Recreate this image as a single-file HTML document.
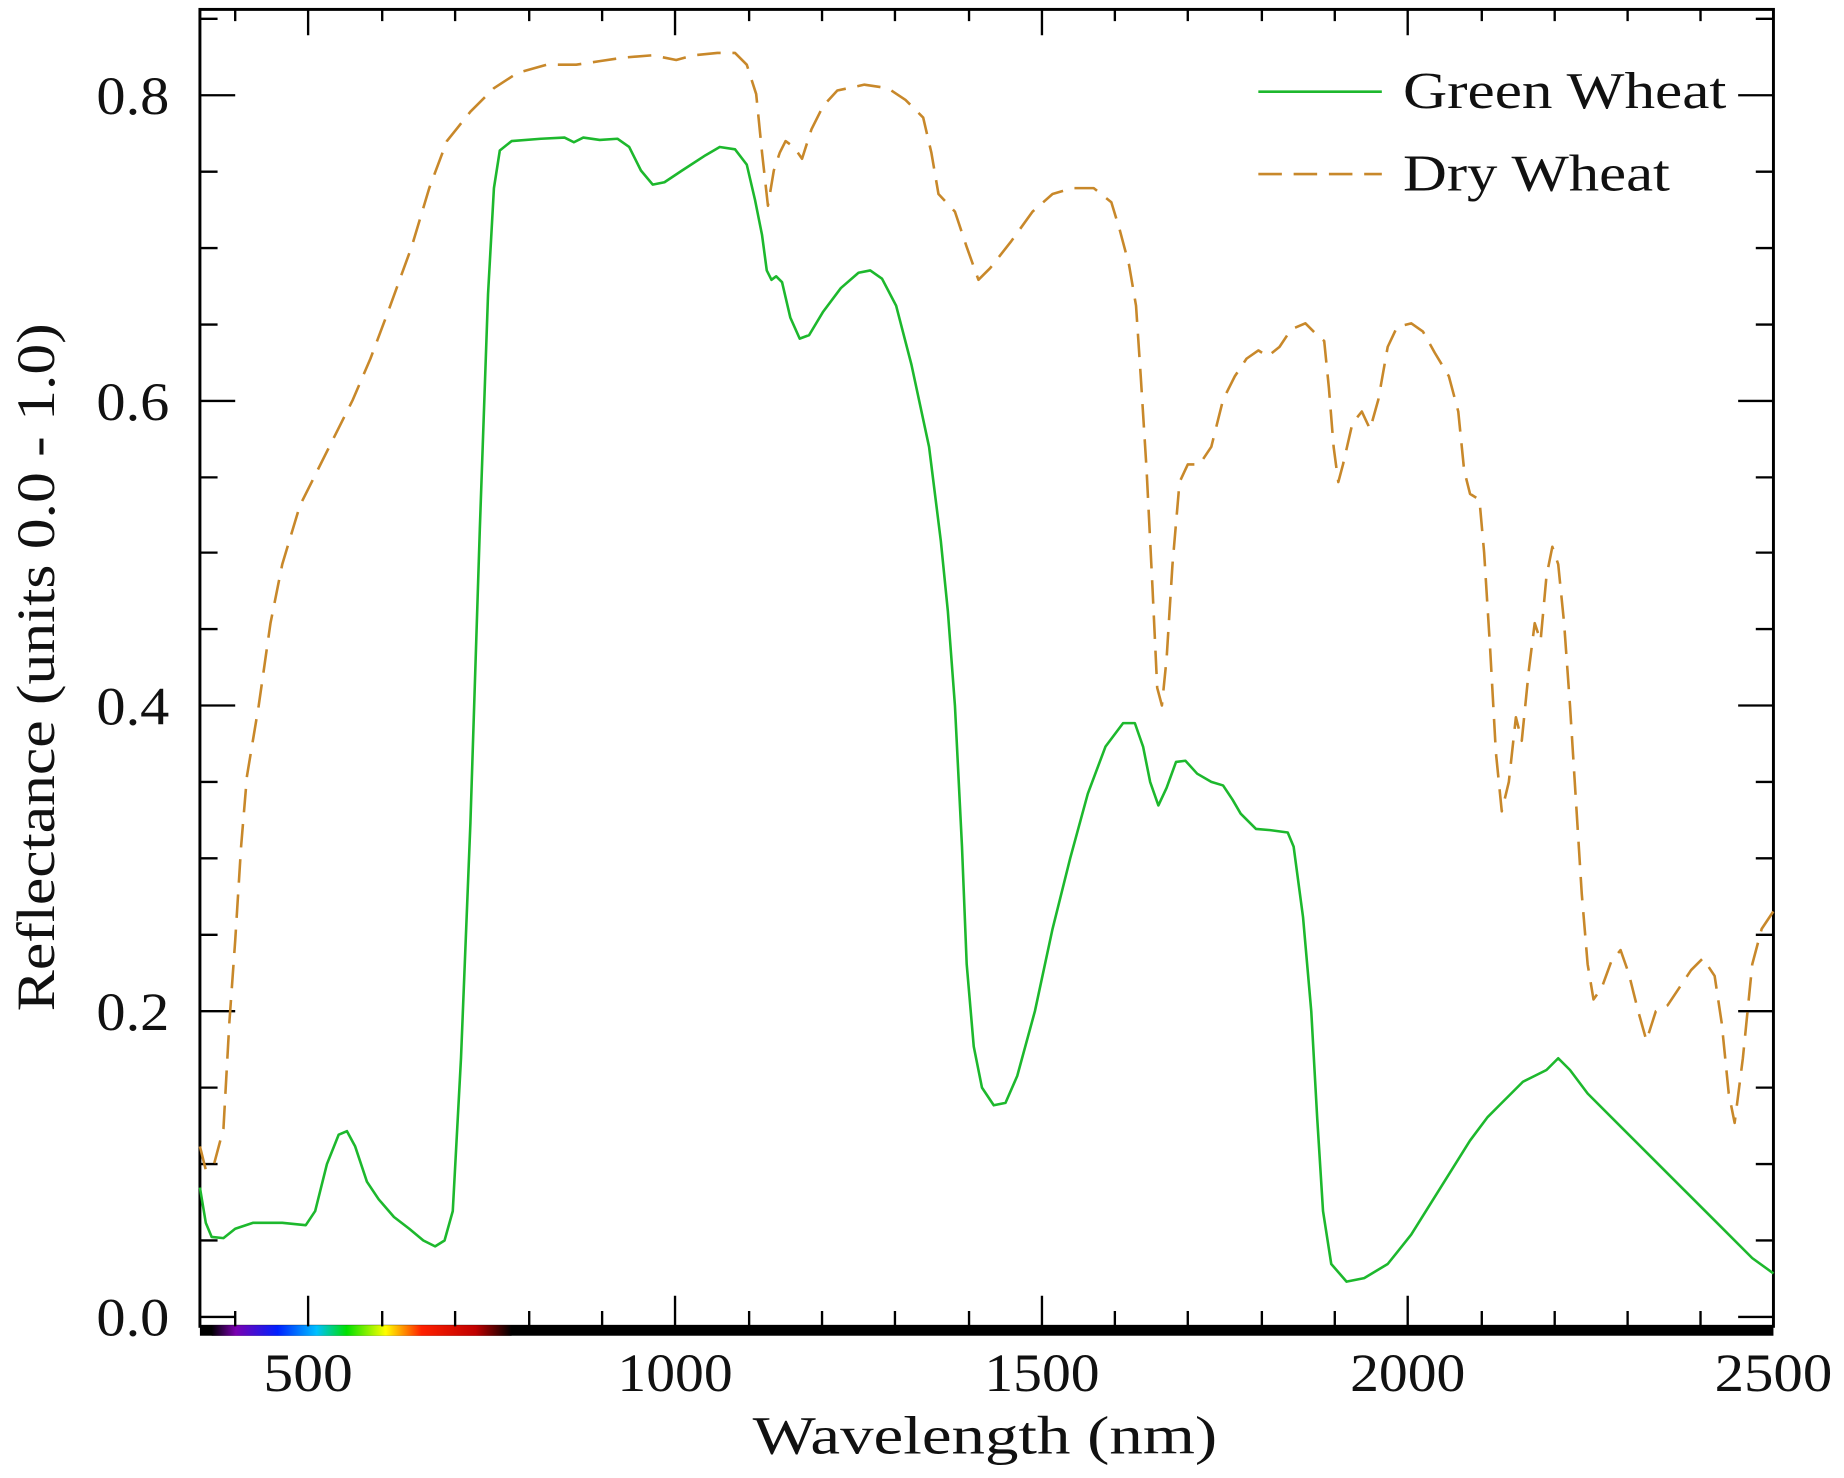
<!DOCTYPE html>
<html><head><meta charset="utf-8"><style>html,body{margin:0;padding:0;background:#fff}svg{display:block}</style></head>
<body>
<svg width="1844" height="1478" viewBox="0 0 1568 1257" preserveAspectRatio="none" xmlns="http://www.w3.org/2000/svg" font-family="'Liberation Serif', serif">
<defs>
<linearGradient id="spec" x1="0" x2="1" y1="0" y2="0">
<stop offset="0" stop-color="#000"/>
<stop offset="0.08" stop-color="#7a00b0"/>
<stop offset="0.22" stop-color="#0020ff"/>
<stop offset="0.35" stop-color="#00c0ff"/>
<stop offset="0.45" stop-color="#00e000"/>
<stop offset="0.58" stop-color="#ffff00"/>
<stop offset="0.7" stop-color="#ff2000"/>
<stop offset="0.88" stop-color="#c00000"/>
<stop offset="1" stop-color="#000"/>
</linearGradient>
</defs>
<rect x="170" y="8" width="1338" height="1120" fill="none" stroke="#000" stroke-width="2.5"/>
<rect x="170" y="1127" width="1338" height="9" fill="#000"/>
<rect x="180" y="1127" width="255" height="9" fill="url(#spec)"/>
<g stroke="#000" stroke-width="2">
<path d="M170 1120h30M170 860h30M170 600h30M170 341h30M170 81h30M1508 1120h-30M1508 860h-30M1508 600h-30M1508 341h-30M1508 81h-30"/>
<path d="M170 1055h15M170 990h15M170 925h15M170 795h15M170 730h15M170 665h15M170 535h15M170 470h15M170 406h15M170 276h15M170 211h15M170 146h15M170 16h15
M1508 1055h-15M1508 990h-15M1508 925h-15M1508 795h-15M1508 730h-15M1508 665h-15M1508 535h-15M1508 470h-15M1508 406h-15M1508 276h-15M1508 211h-15M1508 146h-15M1508 16h-15"/>
<path d="M262 8v22M574 8v22M886 8v22M1197 8v22"/>
<path d="M200 8v10M325 8v10M387 8v10M450 8v10M512 8v10M637 8v10M699 8v10M761 8v10M824 8v10M948 8v10M1010 8v10M1073 8v10M1135 8v10M1260 8v10M1322 8v10M1384 8v10M1446 8v10"/>
<path d="M262 1128v-26M574 1128v-26M886 1128v-26M1197 1128v-26"/>
<path d="M200 1128v-13M325 1128v-13M387 1128v-13M450 1128v-13M512 1128v-13M637 1128v-13M699 1128v-13M761 1128v-13M824 1128v-13M948 1128v-13M1010 1128v-13M1073 1128v-13M1135 1128v-13M1260 1128v-13M1322 1128v-13M1384 1128v-13M1446 1128v-13"/>
</g>
<g font-size="46" fill="#111">
<text x="82" y="1136" textLength="62" lengthAdjust="spacingAndGlyphs">0.0</text>
<text x="82" y="876" textLength="62" lengthAdjust="spacingAndGlyphs">0.2</text>
<text x="82" y="616" textLength="62" lengthAdjust="spacingAndGlyphs">0.4</text>
<text x="82" y="357" textLength="62" lengthAdjust="spacingAndGlyphs">0.6</text>
<text x="82" y="97" textLength="62" lengthAdjust="spacingAndGlyphs">0.8</text>
</g>
<g font-size="46" fill="#111">
<text x="224" y="1183" textLength="76" lengthAdjust="spacingAndGlyphs">500</text>
<text x="525" y="1183" textLength="98" lengthAdjust="spacingAndGlyphs">1000</text>
<text x="837" y="1183" textLength="98" lengthAdjust="spacingAndGlyphs">1500</text>
<text x="1148" y="1183" textLength="98" lengthAdjust="spacingAndGlyphs">2000</text>
<text x="1458" y="1183" textLength="100" lengthAdjust="spacingAndGlyphs">2500</text>
<text x="640" y="1236" textLength="395" lengthAdjust="spacingAndGlyphs">Wavelength (nm)</text>
<text transform="translate(46 860) rotate(-90)" textLength="585" lengthAdjust="spacingAndGlyphs">Reflectance (units 0.0 - 1.0)</text>
</g>
<polyline fill="none" stroke="#1db82d" stroke-width="2.2" stroke-linejoin="round" points="170,1010 175,1040 180,1052 190,1053 200,1045 215,1040 240,1040 260,1042 268,1030 278,990 288,965 295,962 302,975 312,1005 322,1020 335,1035 348,1045 360,1055 370,1060 378,1055 385,1030 392,900 400,700 408,450 415,250 420,160 425,128 435,120 460,118 480,117 488,121 496,117 510,119 525,118 535,125 545,145 555,157 565,155 580,145 600,132 612,125 625,127 635,140 642,170 648,200 652,230 656,238 660,235 665,240 672,270 680,288 688,285 700,265 715,245 730,232 740,230 750,237 762,260 775,310 790,380 800,460 806,520 812,600 818,720 822,820 828,890 835,925 845,940 855,938 865,915 880,860 895,790 910,730 925,675 940,635 955,615 965,615 972,635 978,665 985,685 992,670 1000,648 1008,647 1018,658 1030,665 1040,668 1048,680 1055,692 1068,705 1080,706 1095,708 1100,720 1108,780 1115,860 1120,950 1125,1030 1132,1075 1145,1090 1160,1087 1180,1075 1200,1050 1225,1010 1250,970 1265,950 1275,940 1285,930 1295,920 1305,915 1315,910 1325,900 1335,910 1350,930 1380,960 1420,1000 1460,1040 1490,1070 1508,1083"/>
<polyline fill="none" stroke="#c8882a" stroke-width="2.2" stroke-dasharray="20,10" stroke-linejoin="round" points="170,975 175,995 182,990 190,960 195,870 200,800 205,720 210,660 220,600 230,530 240,480 255,430 270,400 285,370 300,340 315,305 330,265 350,210 365,160 380,120 400,95 420,75 440,62 465,55 490,55 510,52 530,49 555,47 575,51 590,47 610,45 625,45 635,55 643,80 648,130 653,175 658,145 663,130 668,120 675,125 682,135 690,110 700,90 712,77 735,72 755,75 770,85 785,100 792,130 798,165 812,180 822,210 832,238 842,228 860,205 878,180 895,165 912,160 930,160 945,172 952,195 960,225 966,260 970,320 975,400 980,500 984,585 988,600 992,560 997,480 1003,410 1010,395 1020,395 1030,380 1040,340 1050,320 1060,305 1070,298 1078,303 1088,295 1098,280 1110,275 1120,285 1126,290 1130,330 1134,380 1138,410 1142,395 1150,360 1158,350 1165,365 1172,340 1180,295 1188,278 1200,275 1210,282 1220,300 1232,320 1240,350 1245,400 1250,420 1258,425 1262,470 1267,550 1272,640 1277,690 1283,665 1289,610 1294,630 1300,570 1305,530 1310,545 1315,490 1320,465 1325,480 1330,530 1335,600 1340,680 1345,760 1350,820 1355,850 1362,840 1370,818 1378,808 1385,828 1393,860 1400,885 1408,860 1418,855 1428,840 1438,825 1448,815 1458,830 1464,870 1470,930 1475,955 1482,900 1490,820 1498,790 1508,775"/>
<line x1="1070" y1="78" x2="1175" y2="78" stroke="#1db82d" stroke-width="2.2"/>
<line x1="1070" y1="148" x2="1175" y2="148" stroke="#c8882a" stroke-width="2.2" stroke-dasharray="20,10"/>
<g font-size="44" fill="#111">
<text x="1193" y="92" textLength="275" lengthAdjust="spacingAndGlyphs">Green Wheat</text>
<text x="1193" y="162" textLength="227" lengthAdjust="spacingAndGlyphs">Dry Wheat</text>
</g>
</svg>
</body></html>
